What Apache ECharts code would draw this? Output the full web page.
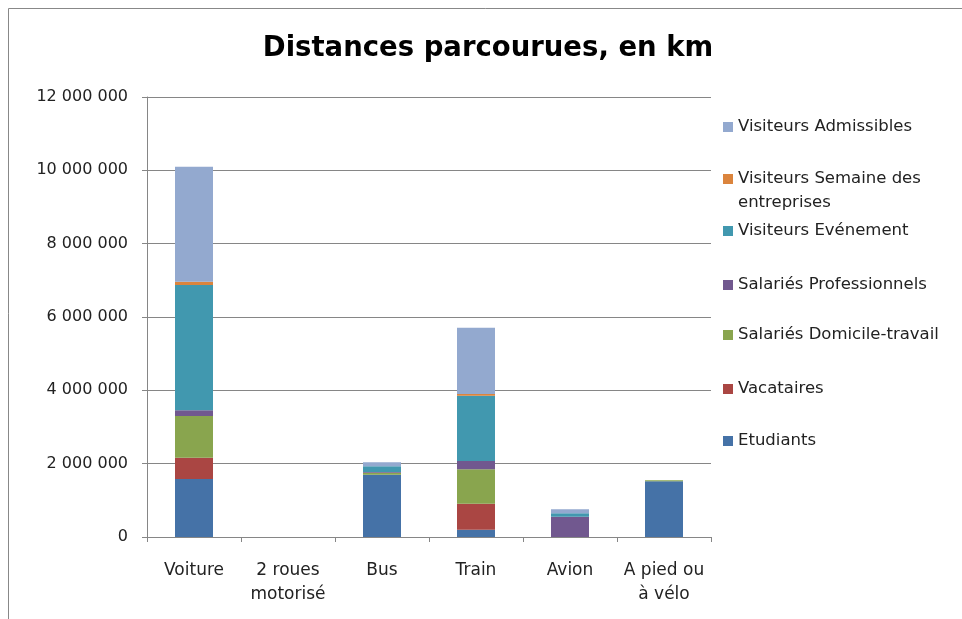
<!DOCTYPE html>
<html><head><meta charset="utf-8">
<script src="https://cdn.jsdelivr.net/npm/echarts@6/dist/echarts.min.js"></script>
<style>html,body{margin:0;padding:0;background:#fff}#c{width:962px;height:619px}</style>
</head><body><div id="c"></div>
<script>
const categories = ['Voiture', '2 roues\nmotorisé', 'Bus', 'Train', 'Avion', 'A pied ou\nà vélo'];
const seriesNames = ['Etudiants', 'Vacataires', 'Salariés Domicile-travail', 'Salariés Professionnels', 'Visiteurs Evénement', 'Visiteurs Semaine des entreprises', 'Visiteurs Admissibles'];
const etudiants = [1580000, 0, 1700000, 200000, 0, 1520000];
const vacataires = [580000, 0, 0, 710000, 0, 0];
const domicileTravail = [1140000, 0, 50000, 940000, 0, 30000];
const professionnels = [160000, 0, 20000, 220000, 550000, 0];
const evenement = [3410000, 0, 160000, 1780000, 100000, 0];
const semaineEntreprises = [90000, 0, 0, 50000, 0, 0];
const admissibles = [3140000, 0, 110000, 1810000, 110000, 0];
const yTicks = [0, 2000000, 4000000, 6000000, 8000000, 10000000, 12000000];

const colors = ['#4572A7', '#AA4643', '#89A54E', '#71588F', '#4198AF', '#DB843D', '#93A9CF'];
const values = [etudiants, vacataires, domicileTravail, professionnels, evenement, semaineEntreprises, admissibles];
const FONT = 'DejaVu Sans';

const legendCenters = [441, 389, 335, 285, 231, 179, 127];
const legendLabels = ['Etudiants', 'Vacataires', 'Salariés Domicile-travail', 'Salariés Professionnels', 'Visiteurs Evénement', ' \nVisiteurs Semaine des\nentreprises', 'Visiteurs Admissibles'];

const legends = seriesNames.map((n, i) => {
  const lines = legendLabels[i].split('\n').length;
  return {
    data: [n],
    orient: 'vertical',
    left: 723,
    top: legendCenters[i] - lines * 12,
    padding: 0,
    itemWidth: 10,
    itemHeight: 10,
    itemGap: 0,
    icon: 'rect',
    selectedMode: false,
    formatter: () => legendLabels[i],
    textStyle: {fontFamily: FONT, fontSize: 16.5, color: '#222', lineHeight: 24}
  };
});

const chart = echarts.init(document.getElementById('c'), null, {renderer: 'canvas'});
chart.setOption({
  animation: false,
  color: colors,
  title: {
    text: 'Distances parcourues, en km',
    left: 483, top: 30, textAlign: 'center',
    textStyle: {fontFamily: FONT, fontSize: 27.5, fontWeight: 'bold', color: '#000'}
  },
  legend: legends,
  grid: {left: 147, right: 251, top: 97, bottom: 82, containLabel: false},
  xAxis: {
    type: 'category',
    data: categories,
    axisLine: {lineStyle: {color: '#868686', width: 1}},
    axisTick: {show: true, length: 5, lineStyle: {color: '#868686'}},
    axisLabel: {interval: 0, margin: 22, fontFamily: FONT, fontSize: 17, color: '#222', lineHeight: 24}
  },
  yAxis: {
    type: 'value',
    min: yTicks[0], max: yTicks[yTicks.length - 1], interval: yTicks[1] - yTicks[0],
    axisLine: {show: true, lineStyle: {color: '#868686', width: 1}},
    axisTick: {show: true, length: 5, lineStyle: {color: '#868686'}},
    splitLine: {lineStyle: {color: '#868686', width: 1}},
    axisLabel: {
      margin: 19, fontFamily: FONT, fontSize: 16, color: '#222',
      formatter: v => String(v).replace(/\B(?=(\d{3})+(?!\d))/g, ' ')
    }
  },
  graphic: [{
    type: 'polyline', silent: true,
    shape: {points: [[8.5, 619], [8.5, 8.5], [962, 8.5]]},
    style: {stroke: '#888', lineWidth: 1, fill: null}
  }],
  series: seriesNames.map((n, i) => ({
    name: n, type: 'bar', stack: 'total', barWidth: 38,
    data: values[i],
    itemStyle: {color: colors[i]}
  }))
});
</script></body></html>
